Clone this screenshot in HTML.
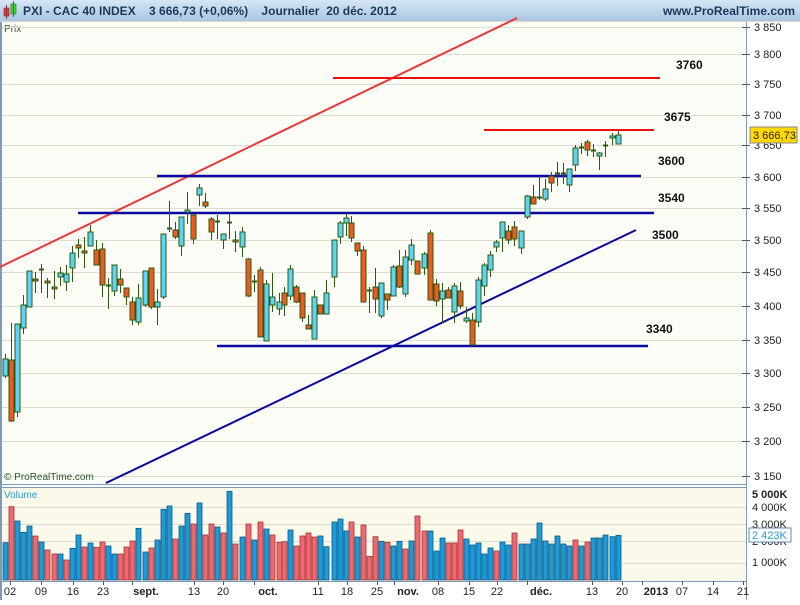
<!DOCTYPE html>
<html><head><meta charset="utf-8"><style>
body{margin:0;width:800px;height:600px;overflow:hidden;background:#fff;font-family:"Liberation Sans",sans-serif}
svg text{font-family:"Liberation Sans",sans-serif}
</style></head><body>
<svg id="s" width="800" height="600" xmlns="http://www.w3.org/2000/svg">
<defs><linearGradient id="hg" x1="0" y1="0" x2="0" y2="1"><stop offset="0" stop-color="#d6e6f4"/><stop offset="1" stop-color="#a9c6e2"/></linearGradient></defs>
<rect x="0" y="0" width="800" height="600" fill="#ffffff"/>
<rect x="0" y="0" width="800" height="21" fill="url(#hg)"/>
<line x1="0" y1="21.5" x2="800" y2="21.5" stroke="#d8d8c8"/>
<rect x="2" y="23" width="744" height="461" fill="#fdfdf8"/>
<rect x="0" y="22" width="2" height="578" fill="#7d9bb8"/>
<line x1="746.5" y1="22" x2="746.5" y2="600" stroke="#7d9bb8"/>
<line x1="0" y1="484.5" x2="746" y2="484.5" stroke="#7d9bb8"/>
<rect x="2" y="487" width="744" height="94" fill="#fbf9ea"/>
<line x1="0" y1="487.5" x2="746" y2="487.5" stroke="#7d9bb8"/>
<line x1="0" y1="581.5" x2="746" y2="581.5" stroke="#7d9bb8"/>
<!-- header -->
<rect x="4" y="8" width="5" height="8" fill="#e04040" stroke="#903030" stroke-width="0.7"/>
<line x1="6.5" y1="5" x2="6.5" y2="19" stroke="#903030"/>
<rect x="11" y="4" width="5" height="10" fill="#40d040" stroke="#308030" stroke-width="0.7"/>
<line x1="13.5" y1="1" x2="13.5" y2="17" stroke="#308030"/>
<text x="23" y="15" font-size="12" font-weight="bold" fill="#1e3a5a">PXI - CAC 40 INDEX&#160;&#160;&#160; 3 666,73 (+0,06%)&#160;&#160;&#160; Journalier&#160; 20 déc. 2012</text>
<text x="795" y="15" font-size="12" font-weight="bold" fill="#1e3a5a" text-anchor="end">www.ProRealTime.com</text>
<text x="4" y="32" font-size="10" fill="#2a5a2a">Prix</text>
<g id="grid" stroke="#dcdcd0" stroke-width="1"></g>
<g id="yl" font-size="11" fill="#222"></g>
<!-- lines -->
<line x1="0" y1="267" x2="517" y2="18" stroke="#e83838" stroke-width="2"/>
<line x1="106" y1="483" x2="636" y2="230" stroke="#0a0aa0" stroke-width="2"/>
<line x1="157" y1="176" x2="641" y2="176" stroke="#0a0aa0" stroke-width="2.5"/>
<line x1="78" y1="213" x2="654" y2="213" stroke="#0a0aa0" stroke-width="2.5"/>
<line x1="217" y1="346" x2="648" y2="346" stroke="#0a0aa0" stroke-width="2.5"/>
<line x1="333" y1="78" x2="660" y2="78" stroke="#ee1010" stroke-width="2"/>
<line x1="484" y1="130" x2="654" y2="130" stroke="#ee1010" stroke-width="2"/>
<g font-size="12" font-weight="bold" fill="#111">
<text x="676" y="69">3760</text><text x="664" y="121">3675</text><text x="658" y="165">3600</text>
<text x="658" y="202">3540</text><text x="652" y="239">3500</text><text x="646" y="333">3340</text></g>
<g id="c"></g>
<g id="v"></g>
<text x="4" y="480" font-size="10" fill="#2a5a2a">© ProRealTime.com</text>
<text x="4" y="498" font-size="10" fill="#2a9ad0">Volume</text>
<rect x="750" y="127" width="47" height="16" fill="#ffd800" stroke="#888"/>
<text x="753" y="139" font-size="11" fill="#222">3 666,73</text>
<g font-size="11" fill="#222">
<text x="752" y="498" font-weight="bold">5 000K</text><text x="752" y="511">4 000K</text><text x="752" y="528">3 000K</text>
<text x="752" y="545">2 000K</text><text x="752" y="566">1 000K</text></g>
<rect x="749" y="528" width="42" height="14" fill="#fff" stroke="#6a8ab0"/>
<text x="752" y="539" font-size="11" fill="#2a9ad0">2 423K</text>
<g id="xl" font-size="11" fill="#222"></g>
</svg>
<script>
var NS="http://www.w3.org/2000/svg";
function el(p,t,a,tx){var e=document.createElementNS(NS,t);for(var k in a)e.setAttribute(k,a[k]);if(tx)e.textContent=tx;document.getElementById(p).appendChild(e);}
var ys=[[3850,27],[3800,54],[3750,84],[3700,115],[3650,145],[3600,177],[3550,208],[3500,240],[3450,272],[3400,306],[3350,340],[3300,373],[3250,407],[3200,441],[3150,476]];
ys.forEach(function(a){el("grid","line",{x1:2,x2:746,y1:a[1]+.5,y2:a[1]+.5});el("grid","line",{x1:742,x2:750,y1:a[1]+.5,y2:a[1]+.5,stroke:"#556"});
var s=String(a[0]);el("yl","text",{x:754,y:a[1]+4},s[0]+" "+s.slice(1));});
[507,524,541,563].forEach(function(y){el("grid","line",{x1:2,x2:746,y1:y+.5,y2:y+.5})});
// candles: [x, type c/r/d, bodyTop, bodyBot, wickTop, wickBot]
var C=[[5,'c',359,376,354,378],[11,'r',360,421,323,422],[17,'c',324,412,324,417],[23,'c',305,328,295,334],[29,'c',271,307,271,307],[35,'r',279,281,272,293],[41,'d',269,269,264,293],[47,'r',281,283,278,298],[54,'r',287,289,271,299],[60,'c',273,277,267,286],[66,'c',274,282,265,291],[72,'c',253,268,246,282],[78,'r',245,248,239,258],[84,'r',251,253,237,268],[90,'c',232,246,225,246],[96,'r',250,265,240,265],[102,'r',249,285,243,297],[108,'d',285,285,278,309],[114,'c',265,291,265,296],[120,'r',279,285,269,293],[126,'r',288,297,288,305],[132,'r',302,320,297,325],[138,'c',298,322,284,325],[145,'c',271,305,271,307],[151,'r',268,307,268,309],[157,'c',302,307,289,325],[163,'c',234,297,234,299],[169,'d',228,228,201,232],[175,'r',230,237,222,239],[181,'c',217,246,217,256],[187,'c',210,212,192,224],[193,'r',215,239,215,244],[199,'c',188,195,184,206],[205,'r',202,206,193,208],[211,'r',219,232,217,240],[217,'d',221,221,215,239],[223,'c',234,240,234,249],[229,'d',222,222,213,239],[235,'r',240,242,231,252],[242,'c',232,247,227,257],[248,'r',259,296,258,297],[254,'d',281,281,275,292],[260,'r',270,337,267,337],[266,'c',284,341,280,341],[272,'c',297,305,273,312],[279,'c',302,309,293,315],[284,'r',293,305,287,316],[290,'c',269,296,265,300],[296,'r',287,302,285,303],[302,'r',293,318,293,322],[308,'r',325,329,315,329],[314,'c',297,339,290,339],[320,'r',305,314,305,314],[326,'c',293,314,280,314],[334,'c',240,277,240,287],[340,'c',223,237,221,244],[346,'c',218,223,214,236],[351,'r',223,238,216,242],[357,'r',243,251,243,256],[363,'r',250,302,246,302],[369,'d',290,290,287,313],[375,'r',287,299,268,313],[381,'c',283,316,283,318],[387,'r',294,300,294,310],[393,'c',267,296,265,296],[399,'r',266,287,250,288],[405,'c',257,294,250,297],[411,'c',245,260,239,265],[417,'r',261,274,261,274],[424,'c',254,268,252,275],[430,'r',233,300,230,300],[436,'r',284,301,279,306],[442,'c',291,299,283,323],[448,'r',290,298,287,298],[454,'c',286,312,283,323],[460,'r',291,306,282,309],[466,'c',318,321,307,323],[472,'r',320,345,313,345],[478,'c',280,322,277,327],[484,'c',265,286,263,296],[490,'c',255,270,251,277],[496,'c',242,247,240,252],[502,'c',222,238,222,252],[508,'r',231,240,225,244],[514,'r',227,239,221,246],[521,'c',231,248,231,254],[527,'c',196,217,195,219],[533,'r',197,204,185,204],[539,'d',197,197,176,200],[545,'c',189,199,179,201],[551,'r',176,183,172,192],[557,'d',173,173,162,186],[563,'d',173,173,163,184],[569,'c',169,185,169,192],[575,'c',148,165,145,171],[581,'d',147,147,143,154],[587,'r',142,150,140,156],[593,'d',150,150,144,157],[599,'c',153,156,152,170],[605,'d',145,145,141,157],[612,'c',136,138,133,145],[618,'c',135,144,131,144]];
C.forEach(function(k){var x=k[0];el("c","line",{x1:x+.5,x2:x+.5,y1:k[4],y2:k[5],stroke:"#2a5a10","stroke-width":1});
if(k[1]=='d'){el("c","line",{x1:x-2,x2:x+3,y1:k[2]+.5,y2:k[2]+.5,stroke:"#2a5a10","stroke-width":2});}
else el("c","rect",{x:x-2,y:k[2],width:5,height:Math.max(2,k[3]-k[2]),fill:k[1]=='c'?"#5ed4f4":"#ee5a20",stroke:"#2a5a10","stroke-width":1});});
var V="b188 r80 b123 b157 b138 r168 b186 r210 r222 b222 r240 b205 b165 r201 b189 r202 r186 b198 b222 r222 r201 r183 b145 b216 r204 b180 b88 b78 r177 b138 b100 r132 b69 r165 r132 b141 r159 b34 r192 b171 r132 b180 r126 b147 r165 r187 r185 b150 r198 r168 r159 r171 b168 b200 b126 b117 b153 r126 b171 r135 r229 r170 b184 r187 b198 b184 r207 b183 r108 r153 b153 b213 b174 r189 r189 r150 b177 b195 b189 b222 b204 r213 b186 b195 r159 b192 b192 b177 b129 b183 b192 b168 b192 b198 r180 b198 r186 b174 b174 b165 b170 b166".split(" ");
V.forEach(function(s,i){var x=C[i]?C[i][0]:5+i*6.07;var t=480+parseInt(s.slice(1))/3;
el("v","rect",{x:x-2,y:t,width:5,height:580-t,fill:s[0]=='b'?"#1e9ad6":"#ee6870",stroke:s[0]=='b'?"#0a5a8a":"#a03838","stroke-width":0.8});});
var X=[["02",10],["09",41],["16",73],["23",103],["sept.",146,1],["13",194],["20",223],["oct.",268,1],["11",318],["18",347],["25",377],["nov.",408,1],["08",438],["15",469],["22",497],["déc.",541,1],["13",592],["20",622],["2013",656,1],["07",682],["14",713],["21",743]];
X.forEach(function(a){el("xl","line",{x1:a[1]-(a[2]?14:0)+.5,x2:a[1]-(a[2]?14:0)+.5,y1:581,y2:585,stroke:"#556"});
var a2={x:a[1],y:595,"text-anchor":"middle"};if(a[2])a2["font-weight"]="bold";el("xl","text",a2,a[0]);});
</script>
</body></html>
